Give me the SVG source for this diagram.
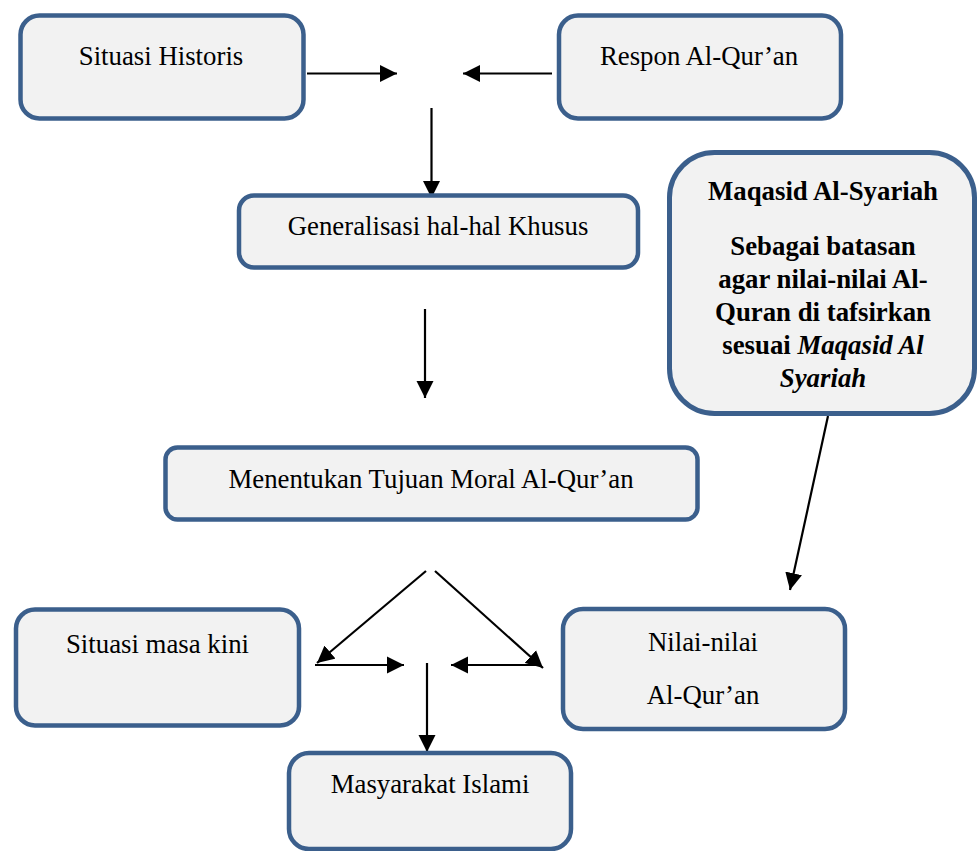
<svg xmlns="http://www.w3.org/2000/svg" width="979" height="851" viewBox="0 0 979 851">
<style>
.box{fill:#F2F2F2;stroke:#3B5F8C;stroke-width:4.5}
.t{font-family:"Liberation Serif","Times New Roman",serif;font-size:26.8px;fill:#000;text-anchor:middle}
.b{font-weight:bold}
.c{stroke:#000;stroke-width:2.2;fill:none;marker-end:url(#ah)}
</style>
<defs>
<marker id="ah" markerUnits="userSpaceOnUse" markerWidth="18" markerHeight="18" refX="17" refY="8.5" orient="auto" viewBox="0 0 18 17">
<path d="M0,0 L17,8.5 L0,17 z" fill="#000"/>
</marker>
</defs>
<rect width="979" height="851" fill="#fff"/>
<g id="connectors">
<line class="c" x1="307" y1="73.5" x2="397" y2="73.5"/>
<line class="c" x1="552" y1="73.5" x2="463" y2="73.5"/>
<line class="c" x1="431.5" y1="108" x2="431.5" y2="198"/>
<line class="c" x1="425" y1="309" x2="425" y2="398"/>
<line class="c" x1="828" y1="416" x2="790" y2="590"/>
<line class="c" x1="426" y1="571" x2="317" y2="663"/>
<line class="c" x1="435" y1="571" x2="543" y2="668"/>
<line class="c" x1="315" y1="665" x2="404" y2="665"/>
<line class="c" x1="537" y1="665" x2="451" y2="665"/>
<line class="c" x1="427" y1="663" x2="427" y2="752"/>
</g>
<g id="situasi-historis">
<rect class="box" x="20.5" y="15.5" width="283" height="103" rx="19"/>
<text class="t" x="161" y="65">Situasi Historis</text>
</g>
<g id="respon-al-quran">
<rect class="box" x="559" y="15.5" width="282" height="103" rx="19"/>
<text class="t" x="699" y="65">Respon Al-Qur’an</text>
</g>
<g id="generalisasi">
<rect class="box" x="239" y="195.5" width="399" height="72" rx="15"/>
<text class="t" x="438" y="235">Generalisasi hal-hal Khusus</text>
</g>
<g id="maqasid">
<rect class="box" x="669.5" y="152.5" width="305" height="261" rx="45" style="stroke-width:5"/>
<text class="t b" x="823" y="200">Maqasid Al-Syariah</text>
<text class="t b" x="823" y="255">Sebagai batasan</text>
<text class="t b" x="823" y="288">agar nilai-nilai Al-</text>
<text class="t b" x="823" y="321">Quran di tafsirkan</text>
<text class="t b" x="823" y="354">sesuai <tspan font-style="italic">Maqasid Al</tspan></text>
<text class="t b" x="823" y="387" font-style="italic">Syariah</text>
</g>
<g id="menentukan">
<rect class="box" x="165.5" y="447.5" width="532" height="72" rx="12"/>
<text class="t" x="431" y="488">Menentukan Tujuan Moral Al-Qur’an</text>
</g>
<g id="situasi-masa-kini">
<rect class="box" x="16" y="609.5" width="283" height="116" rx="19"/>
<text class="t" x="157.5" y="653">Situasi masa kini</text>
</g>
<g id="nilai-nilai">
<rect class="box" x="563" y="609" width="282" height="120" rx="20"/>
<text class="t" x="703" y="651">Nilai-nilai</text>
<text class="t" x="703" y="704">Al-Qur’an</text>
</g>
<g id="masyarakat-islami">
<rect class="box" x="289" y="753" width="282" height="96" rx="20"/>
<text class="t" x="430" y="793">Masyarakat Islami</text>
</g>
</svg>
